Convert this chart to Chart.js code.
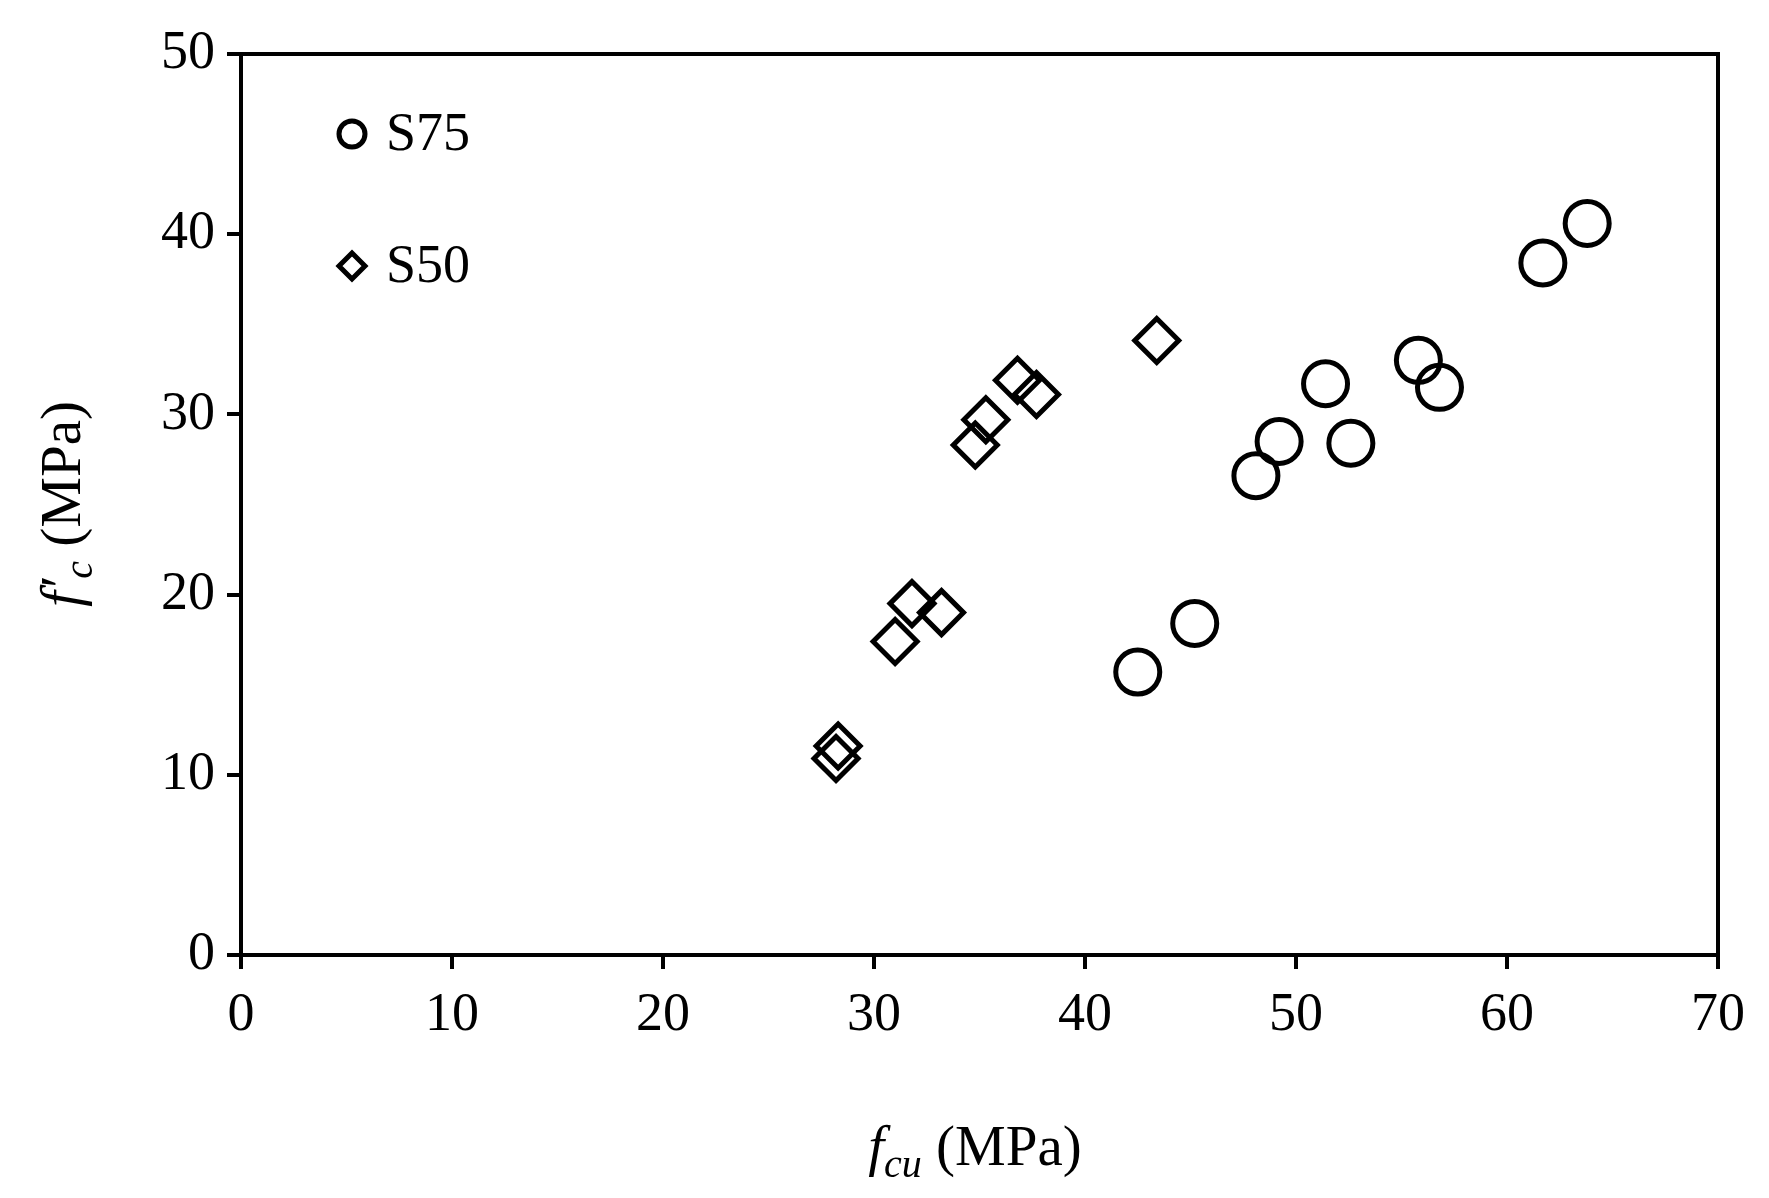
<!DOCTYPE html>
<html>
<head>
<meta charset="utf-8">
<script src="https://cdn.jsdelivr.net/npm/chart.js@4"></script>
<style>
  body { margin: 0; background: #fff; }
  #wrap { width: 1769px; height: 1198px; position: relative; }
</style>
</head>
<body>
<div id="wrap"><canvas id="c"></canvas></div>
<script>
// S75: [fcu, f'c]
var s75X = [42.5, 45.2, 48.1, 49.2, 51.4, 52.6, 55.8, 56.8, 61.7, 63.8];
var s75Y = [15.7, 18.4, 26.6, 28.5, 31.7, 28.4, 33.0, 31.5, 38.4, 40.6];
// S50
var s50X = [28.2, 28.3, 31.0, 31.8, 33.2, 34.8, 35.3, 36.8, 37.7, 43.4];
var s50Y = [10.9, 11.6, 17.4, 19.5, 19.0, 28.3, 29.7, 31.9, 31.1, 34.1];
var xTicks = [0, 10, 20, 30, 40, 50, 60, 70];
var yTicks = [0, 10, 20, 30, 40, 50];

function pts(xs, ys) {
    return xs.map(function (x, i) { return { x: x, y: ys[i] }; });
}

var FONT = '"Liberation Serif", "DejaVu Serif", serif';

// Cadre, légende et titres d'axes (italique + indices)
var decor = {
    id: 'decor',
    afterDraw: function (chart) {
        var ctx = chart.ctx, a = chart.chartArea;
        ctx.save();
        ctx.strokeStyle = '#000';
        ctx.lineWidth = 4;
        ctx.strokeRect(a.left, a.top, a.right - a.left, a.bottom - a.top);

        // légende
        var items = [
            { ds: chart.data.datasets[0], y: 134, style: 'circle', r: 13 },
            { ds: chart.data.datasets[1], y: 266, style: 'rectRot', r: 13 }
        ];
        items.forEach(function (it) {
            ctx.lineWidth = 5;
            ctx.strokeStyle = '#000';
            ctx.beginPath();
            if (it.style === 'circle') {
                ctx.arc(352, it.y, it.r, 0, Math.PI * 2);
            } else {
                ctx.moveTo(352, it.y - it.r);
                ctx.lineTo(352 + it.r, it.y);
                ctx.lineTo(352, it.y + it.r);
                ctx.lineTo(352 - it.r, it.y);
                ctx.closePath();
            }
            ctx.stroke();
            ctx.fillStyle = '#000';
            ctx.font = '54px ' + FONT;
            ctx.textBaseline = 'middle';
            ctx.textAlign = 'left';
            ctx.fillText(it.ds.label, 386, it.y + 2);
        });

        // titre X : f_cu (MPa)
        ctx.textBaseline = 'alphabetic';
        var big = '57px ' + FONT, ital = 'italic 57px ' + FONT, sub = 'italic 40px ' + FONT;
        function w(t, f) { ctx.font = f; return ctx.measureText(t).width; }
        var parts = [['f', ital, 0], ['cu', sub, 12], [' (MPa)', big, 0]];
        var total = parts.reduce(function (s, p) { return s + w(p[0], p[1]); }, 0);
        var x = 975 - total / 2, yb = 1165;
        parts.forEach(function (p) {
            ctx.font = p[1];
            ctx.fillText(p[0], x, yb + p[2]);
            x += ctx.measureText(p[0]).width;
        });

        // titre Y : f'_c (MPa)
        ctx.translate(62, 504);
        ctx.rotate(-Math.PI / 2);
        parts = [['f\u2032', ital, 0], ['c', sub, 12], [' (MPa)', big, 0]];
        total = parts.reduce(function (s, p) { return s + w(p[0], p[1]); }, 0);
        x = -total / 2;
        parts.forEach(function (p) {
            ctx.font = p[1];
            ctx.fillText(p[0], x, 18 + p[2]);
            x += ctx.measureText(p[0]).width;
        });
        ctx.restore();
    }
};

new Chart(document.getElementById('c'), {
    type: 'scatter',
    data: {
        datasets: [{
            label: 'S75',
            data: pts(s75X, s75Y),
            pointStyle: 'circle',
            pointRadius: 22,
            pointHoverRadius: 22,
            borderColor: '#000',
            backgroundColor: 'rgba(0,0,0,0)',
            borderWidth: 5
        }, {
            label: 'S50',
            data: pts(s50X, s50Y),
            pointStyle: 'rectRot',
            pointRadius: 22,
            pointHoverRadius: 22,
            borderColor: '#000',
            backgroundColor: 'rgba(0,0,0,0)',
            borderWidth: 5
        }]
    },
    options: {
        responsive: true,
        maintainAspectRatio: false,
        animation: false,
        devicePixelRatio: 1,
        layout: { padding: { left: 0, top: 54, right: 51, bottom: 0 } },
        plugins: { legend: { display: false }, tooltip: { enabled: false } },
        scales: {
            x: {
                type: 'linear', min: 0, max: 70,
                afterBuildTicks: function (s) { s.ticks = xTicks.map(function (v) { return { value: v }; }); },
                afterFit: function (s) { s.height = 243; },
                ticks: { color: '#000', font: { family: FONT, size: 54 }, padding: 14 },
                grid: { drawOnChartArea: false, drawTicks: true, tickLength: 14, color: '#000', lineWidth: 4 },
                border: { display: true, color: '#000', width: 4 }
            },
            y: {
                type: 'linear', min: 0, max: 50,
                afterBuildTicks: function (s) { s.ticks = yTicks.map(function (v) { return { value: v }; }); },
                afterFit: function (s) { s.width = 241; },
                ticks: { color: '#000', font: { family: FONT, size: 54 }, padding: 12 },
                grid: { drawOnChartArea: false, drawTicks: true, tickLength: 14, color: '#000', lineWidth: 4 },
                border: { display: true, color: '#000', width: 4 }
            }
        }
    },
    plugins: [decor]
});
</script>
</body>
</html>
